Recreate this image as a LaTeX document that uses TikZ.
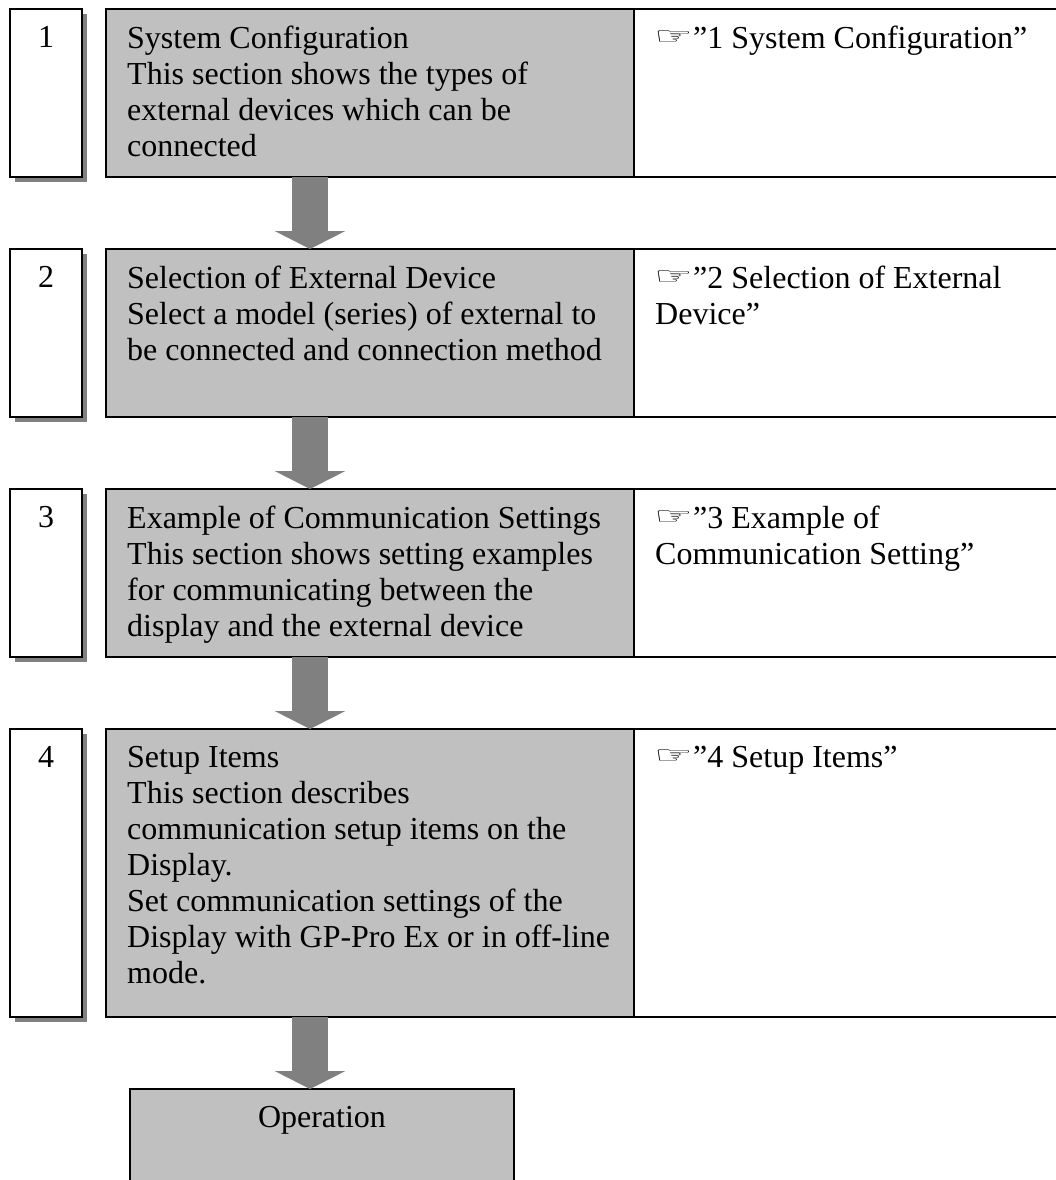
\documentclass[tikz,border=0pt]{standalone}
\usepackage{fontspec}
\usepackage{graphicx}
\setmainfont{Liberation Serif}
\newfontfamily\handfont{DejaVu Sans}
\usetikzlibrary{arrows.meta}
\definecolor{boxgray}{HTML}{C0C0C0}
\definecolor{darkgray8}{HTML}{808080}
\newcommand{\hand}{\raisebox{4pt}{\makebox[38pt][l]{\hspace{-1pt}\scalebox{1.8}[1]{\handfont\fontsize{24}{24}\selectfont\symbol{"261E}}}}}
\tikzset{
  x=1pt,y=-1pt,
  cell/.style={draw=black,line width=2pt,anchor=north west,inner sep=0pt,outer sep=0pt},
  numbox/.style={cell,fill=white,minimum width=72pt,
    preaction={draw=none,fill=darkgray8,transform canvas={xshift=5pt,yshift=-5pt}}},
  graybox/.style={cell,fill=boxgray,minimum width=528pt},
  refbox/.style={cell,fill=white,minimum width=440pt},
  flowarrow/.style={draw=darkgray8,line width=36pt,-{Triangle[length=18pt,width=70pt,color=darkgray8]},shorten >=0pt},
  txt/.style={anchor=north west,inner sep=0pt,align=left,font=\fontsize{32}{36}\selectfont},
  numtxt/.style={anchor=north,inner sep=0pt,font=\fontsize{32}{36}\selectfont},
}
\begin{document}
\begin{tikzpicture}
\useasboundingbox (0,0) rectangle (1056,1180);
% row 1
\node[numbox,minimum height=168pt] (n1) at (10,9) {};
\node[graybox,minimum height=168pt] (g1) at (106,9) {};
\node[refbox,minimum height=168pt] (r1) at (634,9) {};
% row 2
\node[numbox,minimum height=168pt] (n2) at (10,249) {};
\node[graybox,minimum height=168pt] (g2) at (106,249) {};
\node[refbox,minimum height=168pt] (r2) at (634,249) {};
% row 3
\node[numbox,minimum height=168pt] (n3) at (10,489) {};
\node[graybox,minimum height=168pt] (g3) at (106,489) {};
\node[refbox,minimum height=168pt] (r3) at (634,489) {};
% row 4
\node[numbox,minimum height=288pt] (n4) at (10,729) {};
\node[graybox,minimum height=288pt] (g4) at (106,729) {};
\node[refbox,minimum height=288pt] (r4) at (634,729) {};
% operation
\node[cell,fill=boxgray,minimum width=384pt,minimum height=110pt] (op) at (130,1089) {};
% numbers
\node[numtxt] (t1) at (46,26) {1};
\node[numtxt] (t2) at (46,266) {2};
\node[numtxt] (t3) at (46,506) {3};
\node[numtxt] (t4) at (46,746) {4};
% main text
\node[txt] (m1) at (127,26) {System Configuration\\This section shows the types of\\external devices which can be\\connected};
\node[txt] (m2) at (127,266) {Selection of External Device\\Select a model (series) of external to\\be connected and connection method};
\node[txt] (m3) at (127,506) {Example of Communication Settings\\This section shows setting examples\\for communicating between the\\display and the external device};
\node[txt] (m4) at (127,746) {Setup Items\\This section describes\\communication setup items on the\\Display.\\Set communication settings of the\\Display with GP-Pro Ex or in off-line\\mode.};
\node[numtxt] (m5) at (322,1106) {Operation};
% references
\node[txt] (x1) at (655,26) {\hand”1 System Configuration”};
\node[txt] (x2) at (655,266) {\hand”2 Selection of External\\Device”};
\node[txt] (x3) at (655,506) {\hand”3 Example of\\Communication Setting”};
\node[txt] (x4) at (655,746) {\hand”4 Setup Items”};
% arrows
\draw[flowarrow] (g1.south -| 310,0) -- (g2.north -| 310,0);
\draw[flowarrow] (g2.south -| 310,0) -- (g3.north -| 310,0);
\draw[flowarrow] (g3.south -| 310,0) -- (g4.north -| 310,0);
\draw[flowarrow] (g4.south -| 310,0) -- (op.north -| 310,0);
\end{tikzpicture}
\end{document}
